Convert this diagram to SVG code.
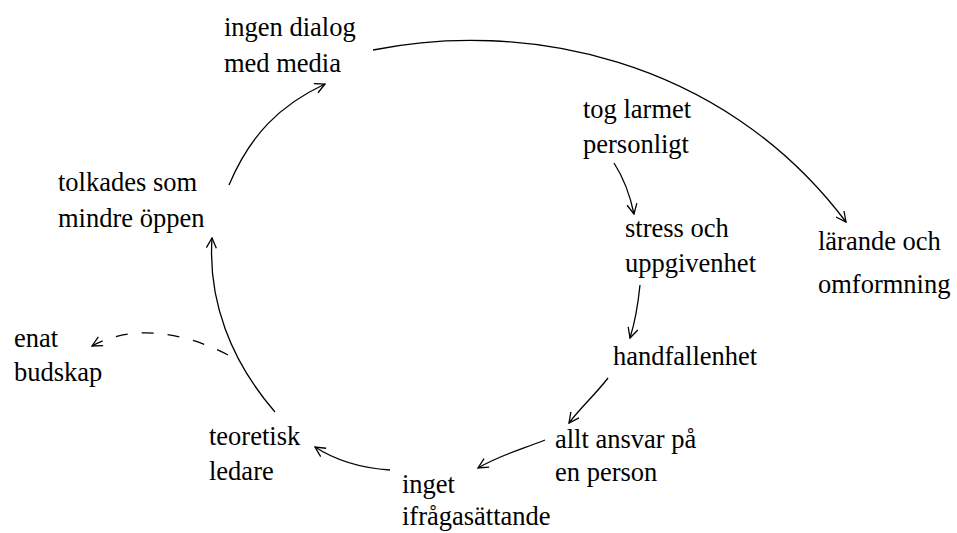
<svg xmlns="http://www.w3.org/2000/svg" width="957" height="533" viewBox="0 0 957 533">
<defs>
<style>
text{font-family:"Liberation Serif","Times New Roman",serif;font-size:26.5px;fill:#000}
.c{fill:none;stroke:#000;stroke-width:1.3;marker-end:url(#a)}
.d{stroke-dasharray:12,14}
</style>
<marker id="a" markerWidth="12" markerHeight="12" refX="11" refY="6" orient="auto" markerUnits="userSpaceOnUse">
<path d="M1,1 L11,6 L1,11" fill="none" stroke="#000" stroke-width="1.3"/>
</marker>
</defs>
<rect width="957" height="533" fill="#fff"/>
<g id="connectors">
<path class="c" d="M373,50 C520,20 720,55 846,222"/>
<path class="c" d="M229,185 C250,135 280,105 325,84"/>
<path class="c" d="M275,412 C230,360 208,300 212,238"/>
<path class="c d" d="M228,355 C180,330 130,325 92,346"/>
<path class="c" d="M390,470 C360,468 335,460 315,447"/>
<path class="c" d="M545,440 C520,450 500,455 478,468"/>
<path class="c" d="M608,378 C595,395 580,408 569,423"/>
<path class="c" d="M640,285 C638,305 635,322 630,338"/>
<path class="c" d="M614,163 C625,180 630,195 634,214"/>
</g>
<g id="n1"><text x="224" y="36">ingen dialog</text><text x="224" y="72">med media</text></g>
<g id="n2"><text x="58" y="191">tolkades som</text><text x="58" y="227">mindre öppen</text></g>
<g id="n3"><text x="583" y="118">tog larmet</text><text x="583" y="153">personligt</text></g>
<g id="n4"><text x="625" y="237">stress och</text><text x="625" y="272">uppgivenhet</text></g>
<g id="n5"><text x="818" y="250">lärande och</text><text x="818" y="293">omformning</text></g>
<g id="n6"><text x="613" y="365">handfallenhet</text></g>
<g id="n7"><text x="555" y="448">allt ansvar på</text><text x="555" y="481">en person</text></g>
<g id="n8"><text x="402" y="493">inget</text><text x="402" y="525">ifrågasättande</text></g>
<g id="n9"><text x="209" y="445">teoretisk</text><text x="209" y="480">ledare</text></g>
<g id="n10"><text x="14" y="347">enat</text><text x="14" y="381">budskap</text></g>
</svg>
